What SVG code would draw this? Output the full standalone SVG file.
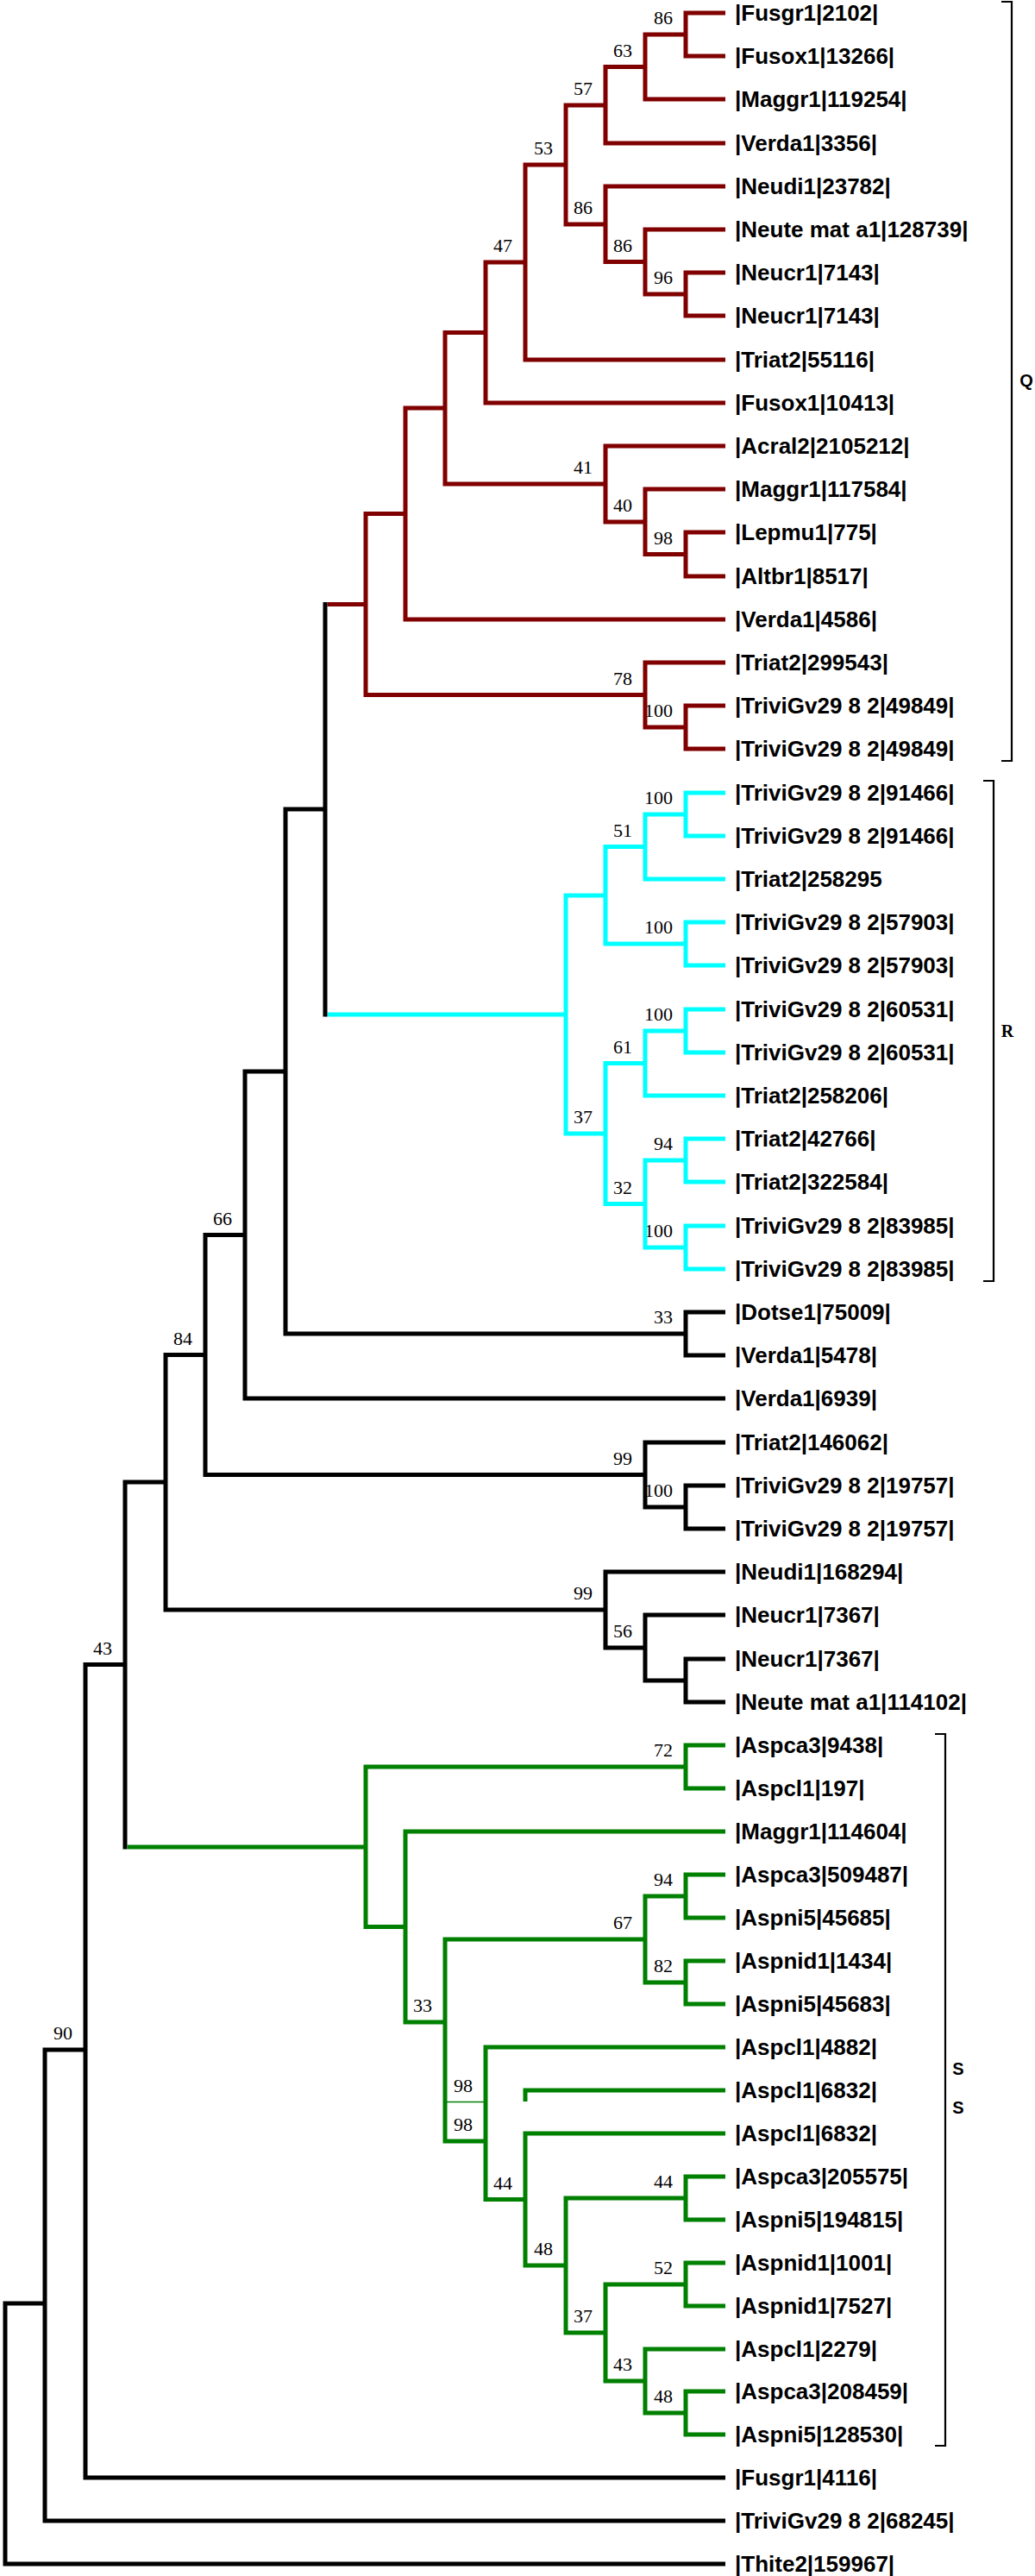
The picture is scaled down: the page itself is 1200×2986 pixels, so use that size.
<svg xmlns="http://www.w3.org/2000/svg" width="1200" height="2986" viewBox="0 0 1200 2986">
<style>
.br{fill:none;stroke-width:5;stroke-linejoin:miter;stroke-linecap:butt}
.r{stroke:#800000}.c{stroke:#00ffff}.b{stroke:#000000}.g{stroke:#008000}
.thin{fill:none;stroke:#008000;stroke-width:1.5}
.leaf{font-family:"Liberation Sans",Arial,sans-serif;font-weight:bold;font-size:26px;fill:#000}
.bs{font-family:"Liberation Serif","Times New Roman",serif;font-size:22px;text-anchor:end;fill:#000}
.brk{fill:none;stroke:#000;stroke-width:2.2}
.cl{font-family:"Liberation Sans",Arial,sans-serif;font-weight:bold;font-size:20px;fill:#000;text-anchor:middle}
.clr{font-family:"Liberation Serif","Times New Roman",serif;font-weight:bold;font-size:20px;fill:#000;text-anchor:middle}
</style>
<rect width="1200" height="2986" fill="#ffffff"/>
<g id="support-values">
<g id="n-q86a"><text class="bs" x="780" y="28">86</text></g>
<g id="n-q63"><text class="bs" x="733" y="65.5">63</text></g>
<g id="n-q57"><text class="bs" x="687" y="110">57</text></g>
<g id="n-q53"><text class="bs" x="641" y="179">53</text></g>
<g id="n-q86b"><text class="bs" x="687" y="248">86</text></g>
<g id="n-q86c"><text class="bs" x="733" y="291.5">86</text></g>
<g id="n-q96"><text class="bs" x="780" y="329">96</text></g>
<g id="n-q47"><text class="bs" x="594" y="292">47</text></g>
<g id="n-q41"><text class="bs" x="687" y="549">41</text></g>
<g id="n-q40"><text class="bs" x="733" y="593">40</text></g>
<g id="n-q98"><text class="bs" x="780" y="630.5">98</text></g>
<g id="n-q78"><text class="bs" x="733" y="793.5">78</text></g>
<g id="n-q100"><text class="bs" x="780" y="831">100</text></g>
<g id="n-r100a"><text class="bs" x="780" y="932">100</text></g>
<g id="n-r51"><text class="bs" x="733" y="969.5">51</text></g>
<g id="n-r100b"><text class="bs" x="780" y="1082">100</text></g>
<g id="n-r100c"><text class="bs" x="780" y="1183">100</text></g>
<g id="n-r61"><text class="bs" x="733" y="1220.5">61</text></g>
<g id="n-r37"><text class="bs" x="687" y="1302">37</text></g>
<g id="n-r94"><text class="bs" x="780" y="1333">94</text></g>
<g id="n-r32"><text class="bs" x="733" y="1383.5">32</text></g>
<g id="n-r100d"><text class="bs" x="780" y="1434">100</text></g>
<g id="n-b33"><text class="bs" x="780" y="1534">33</text></g>
<g id="n-b99a"><text class="bs" x="733" y="1697.5">99</text></g>
<g id="n-b100"><text class="bs" x="780" y="1735">100</text></g>
<g id="n-b99b"><text class="bs" x="687" y="1854">99</text></g>
<g id="n-b56"><text class="bs" x="733" y="1898">56</text></g>
<g id="n-b66"><text class="bs" x="269" y="1419.5">66</text></g>
<g id="n-b84"><text class="bs" x="223" y="1558.5">84</text></g>
<g id="n-b43"><text class="bs" x="130" y="1917.5">43</text></g>
<g id="n-b90"><text class="bs" x="84" y="2364">90</text></g>
<g id="n-g72"><text class="bs" x="780" y="2036">72</text></g>
<g id="n-g94"><text class="bs" x="780" y="2186">94</text></g>
<g id="n-g67"><text class="bs" x="733" y="2236">67</text></g>
<g id="n-g82"><text class="bs" x="780" y="2286">82</text></g>
<g id="n-g33"><text class="bs" x="501" y="2332">33</text></g>
<g id="n-g98a"><text class="bs" x="548" y="2424.5">98</text></g>
<g id="n-g98b"><text class="bs" x="548" y="2470">98</text></g>
<g id="n-g44a"><text class="bs" x="594" y="2537.5">44</text></g>
<g id="n-g44b"><text class="bs" x="780" y="2536">44</text></g>
<g id="n-g48a"><text class="bs" x="641" y="2614">48</text></g>
<g id="n-g37"><text class="bs" x="687" y="2692">37</text></g>
<g id="n-g52"><text class="bs" x="780" y="2636">52</text></g>
<g id="n-g43"><text class="bs" x="733" y="2748">43</text></g>
<g id="n-g48b"><text class="bs" x="780" y="2785">48</text></g>
</g>
<g id="connectors">
<g id="clade-Q-branches" class="br r">
<path d="M841 15H795V65H841"/>
<path d="M795 40H748V115H841"/>
<path d="M748 77.5H702V166H841"/>
<path d="M841 316H795V366H841"/>
<path d="M841 266H748V341H795"/>
<path d="M841 216H702V303.5H748"/>
<path d="M702 122H656V260H702"/>
<path d="M656 191H609V417H841"/>
<path d="M609 304H563V467H841"/>
<path d="M841 617H795V668H841"/>
<path d="M841 567H748V642.5H795"/>
<path d="M841 517H702V605H748"/>
<path d="M563 385.5H516V561H702"/>
<path d="M516 473H470V718H841"/>
<path d="M841 818H795V868H841"/>
<path d="M841 768H748V843H795"/>
<path d="M470 595.5H424V805.5H748"/>
<path d="M379.5 700.5H424"/>
</g>
<g id="clade-R-branches" class="br c">
<path d="M841 919H795V969H841"/>
<path d="M795 944H748V1019H841"/>
<path d="M841 1069H795V1119H841"/>
<path d="M748 981.5H702V1094H795"/>
<path d="M841 1170H795V1220H841"/>
<path d="M795 1195H748V1270H841"/>
<path d="M841 1320H795V1370H841"/>
<path d="M841 1421H795V1471H841"/>
<path d="M795 1345H748V1446H795"/>
<path d="M748 1232.5H702V1395.5H748"/>
<path d="M702 1038H656V1314H702"/>
<path d="M379.5 1176H656"/>
</g>
<g id="backbone-branches" class="br b">
<path d="M377 698V1178.5"/>
<path d="M377 938H331V1546H795"/>
<path d="M841 1521H795V1571H841"/>
<path d="M331 1242H284V1621H841"/>
<path d="M841 1722H795V1772H841"/>
<path d="M841 1672H748V1747H795"/>
<path d="M284 1431.5H238V1709.5H748"/>
<path d="M841 1923H795V1973H841"/>
<path d="M841 1872H748V1948H795"/>
<path d="M841 1822H702V1910H748"/>
<path d="M238 1570.5H192V1866H702"/>
<path d="M192 1718H145V2143.5"/>
<path d="M145 1929.5H99V2872H841"/>
<path d="M99 2376H52V2922H841"/>
<path d="M52 2670H6V2972H841"/>
</g>
<g id="clade-S-branches" class="br g">
<path d="M147.5 2141H424"/>
<path d="M795 2048H424V2233.5H470"/>
<path d="M841 2023H795V2073H841"/>
<path d="M841 2123H470V2344H516"/>
<path d="M748 2248H516V2482H563"/>
<path d="M795 2198H748V2298H795"/>
<path d="M841 2173H795V2223H841"/>
<path d="M841 2273H795V2323H841"/>
<path d="M841 2373H563V2549.5H609"/>
<path d="M841 2423H609V2436"/>
<path d="M841 2473H609V2626H656"/>
<path d="M795 2548H656V2704H702"/>
<path d="M841 2523H795V2573H841"/>
<path d="M795 2648H702V2760H748"/>
<path d="M841 2623H795V2673H841"/>
<path d="M841 2723H748V2797H795"/>
<path d="M841 2772H795V2822H841"/>
</g>
<path class="thin" d="M518 2436.5H563"/>
</g>
<g id="leaves">
<g id="leaf-01"><text class="leaf" x="852" y="24">|Fusgr1|2102|</text></g>
<g id="leaf-02"><text class="leaf" x="852" y="74">|Fusox1|13266|</text></g>
<g id="leaf-03"><text class="leaf" x="852" y="124">|Maggr1|119254|</text></g>
<g id="leaf-04"><text class="leaf" x="852" y="175">|Verda1|3356|</text></g>
<g id="leaf-05"><text class="leaf" x="852" y="225">|Neudi1|23782|</text></g>
<g id="leaf-06"><text class="leaf" x="852" y="275">|Neute mat a1|128739|</text></g>
<g id="leaf-07"><text class="leaf" x="852" y="325">|Neucr1|7143|</text></g>
<g id="leaf-08"><text class="leaf" x="852" y="375">|Neucr1|7143|</text></g>
<g id="leaf-09"><text class="leaf" x="852" y="426">|Triat2|55116|</text></g>
<g id="leaf-10"><text class="leaf" x="852" y="476">|Fusox1|10413|</text></g>
<g id="leaf-11"><text class="leaf" x="852" y="526">|Acral2|2105212|</text></g>
<g id="leaf-12"><text class="leaf" x="852" y="576">|Maggr1|117584|</text></g>
<g id="leaf-13"><text class="leaf" x="852" y="626">|Lepmu1|775|</text></g>
<g id="leaf-14"><text class="leaf" x="852" y="677">|Altbr1|8517|</text></g>
<g id="leaf-15"><text class="leaf" x="852" y="727">|Verda1|4586|</text></g>
<g id="leaf-16"><text class="leaf" x="852" y="777">|Triat2|299543|</text></g>
<g id="leaf-17"><text class="leaf" x="852" y="827">|TriviGv29 8 2|49849|</text></g>
<g id="leaf-18"><text class="leaf" x="852" y="877">|TriviGv29 8 2|49849|</text></g>
<g id="leaf-19"><text class="leaf" x="852" y="928">|TriviGv29 8 2|91466|</text></g>
<g id="leaf-20"><text class="leaf" x="852" y="978">|TriviGv29 8 2|91466|</text></g>
<g id="leaf-21"><text class="leaf" x="852" y="1028">|Triat2|258295</text></g>
<g id="leaf-22"><text class="leaf" x="852" y="1078">|TriviGv29 8 2|57903|</text></g>
<g id="leaf-23"><text class="leaf" x="852" y="1128">|TriviGv29 8 2|57903|</text></g>
<g id="leaf-24"><text class="leaf" x="852" y="1179">|TriviGv29 8 2|60531|</text></g>
<g id="leaf-25"><text class="leaf" x="852" y="1229">|TriviGv29 8 2|60531|</text></g>
<g id="leaf-26"><text class="leaf" x="852" y="1279">|Triat2|258206|</text></g>
<g id="leaf-27"><text class="leaf" x="852" y="1329">|Triat2|42766|</text></g>
<g id="leaf-28"><text class="leaf" x="852" y="1379">|Triat2|322584|</text></g>
<g id="leaf-29"><text class="leaf" x="852" y="1430">|TriviGv29 8 2|83985|</text></g>
<g id="leaf-30"><text class="leaf" x="852" y="1480">|TriviGv29 8 2|83985|</text></g>
<g id="leaf-31"><text class="leaf" x="852" y="1530">|Dotse1|75009|</text></g>
<g id="leaf-32"><text class="leaf" x="852" y="1580">|Verda1|5478|</text></g>
<g id="leaf-33"><text class="leaf" x="852" y="1630">|Verda1|6939|</text></g>
<g id="leaf-34"><text class="leaf" x="852" y="1681">|Triat2|146062|</text></g>
<g id="leaf-35"><text class="leaf" x="852" y="1731">|TriviGv29 8 2|19757|</text></g>
<g id="leaf-36"><text class="leaf" x="852" y="1781">|TriviGv29 8 2|19757|</text></g>
<g id="leaf-37"><text class="leaf" x="852" y="1831">|Neudi1|168294|</text></g>
<g id="leaf-38"><text class="leaf" x="852" y="1881">|Neucr1|7367|</text></g>
<g id="leaf-39"><text class="leaf" x="852" y="1932">|Neucr1|7367|</text></g>
<g id="leaf-40"><text class="leaf" x="852" y="1982">|Neute mat a1|114102|</text></g>
<g id="leaf-41"><text class="leaf" x="852" y="2032">|Aspca3|9438|</text></g>
<g id="leaf-42"><text class="leaf" x="852" y="2082">|Aspcl1|197|</text></g>
<g id="leaf-43"><text class="leaf" x="852" y="2132">|Maggr1|114604|</text></g>
<g id="leaf-44"><text class="leaf" x="852" y="2182">|Aspca3|509487|</text></g>
<g id="leaf-45"><text class="leaf" x="852" y="2232">|Aspni5|45685|</text></g>
<g id="leaf-46"><text class="leaf" x="852" y="2282">|Aspnid1|1434|</text></g>
<g id="leaf-47"><text class="leaf" x="852" y="2332">|Aspni5|45683|</text></g>
<g id="leaf-48"><text class="leaf" x="852" y="2382">|Aspcl1|4882|</text></g>
<g id="leaf-49"><text class="leaf" x="852" y="2432">|Aspcl1|6832|</text></g>
<g id="leaf-50"><text class="leaf" x="852" y="2482">|Aspcl1|6832|</text></g>
<g id="leaf-51"><text class="leaf" x="852" y="2532">|Aspca3|205575|</text></g>
<g id="leaf-52"><text class="leaf" x="852" y="2582">|Aspni5|194815|</text></g>
<g id="leaf-53"><text class="leaf" x="852" y="2632">|Aspnid1|1001|</text></g>
<g id="leaf-54"><text class="leaf" x="852" y="2682">|Aspnid1|7527|</text></g>
<g id="leaf-55"><text class="leaf" x="852" y="2732">|Aspcl1|2279|</text></g>
<g id="leaf-56"><text class="leaf" x="852" y="2781">|Aspca3|208459|</text></g>
<g id="leaf-57"><text class="leaf" x="852" y="2831">|Aspni5|128530|</text></g>
<g id="leaf-58"><text class="leaf" x="852" y="2881">|Fusgr1|4116|</text></g>
<g id="leaf-59"><text class="leaf" x="852" y="2931">|TriviGv29 8 2|68245|</text></g>
<g id="leaf-60"><text class="leaf" x="852" y="2981">|Thite2|159967|</text></g>
</g>
<g id="clade-brackets">
<g id="bracket-Q"><path class="brk" d="M1161 2H1173V882H1161"/><text class="cl" x="1190" y="448">Q</text></g>
<g id="bracket-R"><path class="brk" d="M1140 905H1152V1485H1140"/><text class="clr" x="1168" y="1202">R</text></g>
<g id="bracket-S"><path class="brk" d="M1084 2010H1096V2835H1084"/><text class="cl" x="1111" y="2405">S</text><text class="cl" x="1111" y="2450">S</text></g>
</g>
</svg>
